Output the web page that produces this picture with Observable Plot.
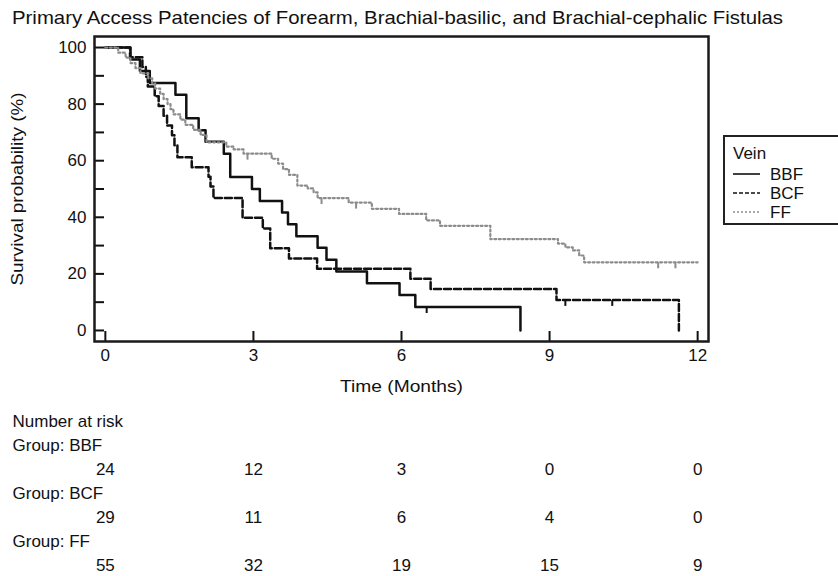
<!DOCTYPE html>
<html><head><meta charset="utf-8">
<script src="https://cdn.jsdelivr.net/npm/d3@7"></script>
<script src="https://cdn.jsdelivr.net/npm/@observablehq/plot@0.6"></script>
<style>
body{margin:0;background:#fff;}
#wrap{position:relative;width:838px;height:576px;overflow:hidden;background:#fff;font-family:"Liberation Sans",Arial,sans-serif;color:#111;}
#wrap svg{display:block;}
.abs{position:absolute;left:0;}
</style></head><body><div id="wrap"></div>
<script>
const titleText = "Primary Access Patencies of Forearm, Brachial-basilic, and Brachial-cephalic Fistulas";
const xLabel = "Time (Months)";
const yLabel = "Survival probability (%)";
const legendTitle = "Vein";
const groups = ["BBF", "BCF", "FF"];

const bbfTime = [0, 0.51, 0.70, 0.90, 1.42, 1.64, 1.89, 2.03, 2.40, 2.53, 2.97, 3.13, 3.58, 3.70, 3.87, 4.30, 4.48, 4.68, 5.30, 5.96, 6.28, 8.41];
const bbfSurv = [100, 95.8, 91.7, 87.5, 83.3, 75.0, 70.8, 66.7, 62.5, 54.2, 50.0, 45.8, 41.7, 37.5, 33.3, 29.2, 25.0, 20.8, 16.7, 12.5, 8.3, 0];
const bcfTime = [0, 0.50, 0.75, 0.82, 0.86, 1.00, 1.08, 1.18, 1.25, 1.35, 1.40, 1.46, 1.75, 2.09, 2.13, 2.19, 2.78, 3.19, 3.34, 3.72, 4.29, 6.18, 6.59, 9.14, 11.62];
const bcfSurv = [100, 96.6, 93.1, 89.7, 86.2, 82.8, 79.3, 75.9, 72.4, 69.0, 65.5, 61.2, 57.7, 54.3, 50.9, 46.8, 39.8, 36.0, 29.1, 25.4, 21.8, 18.3, 14.7, 10.8, 0];
const ffTime = [0, 0.26, 0.41, 0.51, 0.61, 0.71, 0.87, 0.95, 1.01, 1.11, 1.18, 1.26, 1.32, 1.38, 1.52, 1.62, 1.78, 1.93, 2.05, 2.45, 2.60, 2.80, 3.37, 3.50, 3.60, 3.72, 3.89, 4.10, 4.22, 4.30, 4.93, 5.40, 5.95, 6.50, 6.78, 7.80, 9.17, 9.32, 9.47, 9.60, 9.70, 12.0];
const ffSurv = [100, 98.2, 96.4, 94.5, 92.7, 90.9, 89.1, 87.3, 85.5, 83.6, 81.8, 80.0, 78.2, 76.4, 74.5, 72.7, 70.9, 69.1, 66.5, 65.0, 64.0, 62.5, 60.7, 59.0, 57.0, 55.0, 51.2, 50.2, 48.8, 46.8, 45.2, 43.0, 41.2, 38.9, 37.0, 32.3, 30.7, 29.4, 28.3, 26.5, 24.1, 24.1];

const bbfCensorTime = [6.51];
const bbfCensorSurv = [8.3];
const bcfCensorTime = [9.32, 10.27];
const bcfCensorSurv = [10.8, 10.8];
const ffCensorTime = [2.88, 4.38, 5.08, 11.2, 11.55];
const ffCensorSurv = [62.5, 46.8, 45.2, 24.1, 24.1];

const xTicks = [0, 3, 6, 9, 12];
const yTicks = [0, 20, 40, 60, 80, 100];
const yMinorTicks = [0, 10, 20, 30, 40, 50, 60, 70, 80, 90, 100];

const riskHeader = "Number at risk";
const riskTimes = [0, 3, 6, 9, 12];
const riskBBF = [24, 12, 3, 0, 0];
const riskBCF = [29, 11, 6, 4, 0];
const riskFF = [55, 32, 19, 15, 9];

const styles = {
  BBF: {stroke: "#111", strokeWidth: 2.5, dash: null},
  BCF: {stroke: "#111", strokeWidth: 2.5, dash: "7,3"},
  FF: {stroke: "#8c8c8c", strokeWidth: 2.2, dash: "2,2.5"}
};

const toRows = (g, T, S) => T.map((t, i) => ({group: g, t, s: S[i]}));
const curves = {BBF: toRows("BBF", bbfTime, bbfSurv), BCF: toRows("BCF", bcfTime, bcfSurv), FF: toRows("FF", ffTime, ffSurv)};
const censors = {BBF: toRows("BBF", bbfCensorTime, bbfCensorSurv), BCF: toRows("BCF", bcfCensorTime, bcfCensorSurv), FF: toRows("FF", ffCensorTime, ffCensorSurv)};

const font = '"Liberation Sans", Arial, sans-serif';
const wrap = document.getElementById("wrap");

// Title
const tsvg = d3.create("svg").attr("width", 838).attr("height", 30).attr("class", "abs").style("top", "0px");
tsvg.append("text").attr("x", 12).attr("y", 24).attr("font-family", font).attr("font-size", 19)
  .attr("fill", "#111").attr("textLength", 771).attr("lengthAdjust", "spacingAndGlyphs").text(titleText);
wrap.appendChild(tsvg.node());

const tickDown = {draw(ctx) { ctx.moveTo(0, 0); ctx.lineTo(0, 6); }};

const marks = [];
for (const g of groups) {
  const st = styles[g];
  marks.push(Plot.line(curves[g], {x: "t", y: "s", curve: "step-after", stroke: st.stroke, strokeWidth: st.strokeWidth, strokeDasharray: st.dash}));
  marks.push(Plot.dot(censors[g], {x: "t", y: "s", symbol: tickDown, stroke: st.stroke, strokeWidth: 2, fill: "none", r: 3}));
}

const main = Plot.plot({
  width: 838, height: 370,
  marginTop: 6, marginLeft: 94, marginRight: 130, marginBottom: 59,
  x: {domain: [-0.22, 12.22]},
  y: {domain: [-3.9, 103.9]},
  style: {fontFamily: font, fontSize: "17px", color: "#111", background: "transparent", overflow: "visible"},
  marks: [
    ...marks,
    Plot.axisY(yMinorTicks, {tickSize: -10, text: null, label: null, strokeWidth: 2}),
    Plot.axisY(yTicks, {tickSize: 0, tickPadding: 8, fontSize: 17, label: yLabel, labelAnchor: "center", labelOffset: 84, labelArrow: "none"}),
    Plot.axisX(xTicks, {tickSize: -10, text: null, label: null, strokeWidth: 2}),
    Plot.axisX(xTicks, {tickSize: 0, tickPadding: 7, fontSize: 17, label: xLabel, labelAnchor: "center", labelOffset: 50, labelArrow: "none"}),
    Plot.frame({stroke: "#1a1a1a", strokeWidth: 2.5})
  ]
});
main.setAttribute("class", "abs");
main.style.top = "30px";
wrap.appendChild(main);
// stretch axis labels to the widths they have in the reference
d3.select(main).selectAll('[aria-label="y-axis label"] text').attr("textLength", 193).attr("lengthAdjust", "spacingAndGlyphs");
d3.select(main).selectAll('[aria-label="x-axis label"] text').attr("textLength", 123).attr("lengthAdjust", "spacingAndGlyphs");

// Legend
const lsvg = d3.create("svg").attr("width", 115).attr("height", 95).attr("class", "abs")
  .style("left", "723px").style("top", "135px");
lsvg.append("rect").attr("x", 1).attr("y", 1).attr("width", 140).attr("height", 88).attr("fill", "#fff").attr("stroke", "#222").attr("stroke-width", 2);
lsvg.append("text").attr("x", 10).attr("y", 24).attr("font-family", font).attr("font-size", 17).attr("fill", "#111").text(legendTitle);
groups.forEach((g, i) => {
  const st = styles[g];
  const y = 39 + i * 19;
  lsvg.append("line").attr("x1", 10).attr("x2", 37).attr("y1", y).attr("y2", y)
    .attr("stroke", st.stroke).attr("stroke-width", 1.6).attr("stroke-dasharray", g === "BCF" ? "4,2" : (g === "FF" ? "2,2" : null));
  lsvg.append("text").attr("x", 47).attr("y", y + 6).attr("font-family", font).attr("font-size", 17).attr("fill", "#111").text(g);
});
wrap.appendChild(lsvg.node());

// Risk table
const labelRows = [{row: 0, label: riskHeader}];
const numRows = [];
[["BBF", riskBBF], ["BCF", riskBCF], ["FF", riskFF]].forEach(([g, arr], k) => {
  labelRows.push({row: 1 + 2 * k, label: "Group: " + g});
  riskTimes.forEach((t, i) => numRows.push({row: 2 + 2 * k, t, n: arr[i]}));
});
const risk = Plot.plot({
  width: 838, height: 176,
  marginTop: 0, marginLeft: 94, marginRight: 130, marginBottom: 0,
  x: {domain: [-0.22, 12.22], axis: null},
  y: {type: "point", domain: [0, 1, 2, 3, 4, 5, 6], range: [19, 167], padding: 0, axis: null},
  style: {fontFamily: font, fontSize: "17px", color: "#111", background: "transparent", overflow: "visible"},
  marks: [
    Plot.text(labelRows, {y: "row", text: "label", frameAnchor: "left", textAnchor: "start", dx: -82, fontSize: 17, fill: "#111"}),
    Plot.text(numRows, {x: "t", y: "row", text: "n", textAnchor: "middle", fontSize: 17, fill: "#111"})
  ]
});
risk.setAttribute("class", "abs");
risk.style.top = "400px";
wrap.appendChild(risk);
</script></body></html>
